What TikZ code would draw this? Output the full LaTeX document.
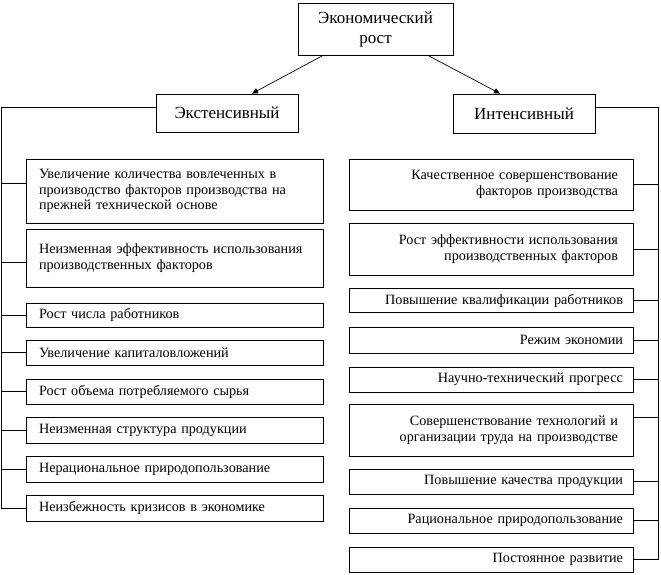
\documentclass[tikz,border=0pt]{standalone}
\usepackage{fontspec}
\setmainfont{Liberation Serif}
\usetikzlibrary{arrows.meta}
\tikzset{
  box/.style={draw=black, line width=0.9pt, inner sep=0pt, font=\fontsize{14.2}{15.8}\selectfont},
  headbox/.style={box, align=center, font=\fontsize{17}{20}\selectfont},
  lbox/.style={box, minimum width=297pt, text width=271pt, align=left, inner xsep=13pt},
  rbox/.style={box, minimum width=284pt, text width=264pt, align=right, inner xsep=10pt},
  rboxw/.style={rbox, text width=254pt, inner xsep=15pt},
  conn/.style={line width=0.8pt},
  arr/.style={line width=0.7pt, -{Triangle[length=6pt,width=5.5pt]}}
}
\begin{document}
\begin{tikzpicture}[x=1pt,y=-1pt]
\useasboundingbox (0,0) rectangle (661,575);
% top
\node[headbox, minimum width=155pt, minimum height=52pt] (eco) at (375.5,29) {Экономический\\рост};
\node[headbox, minimum width=142pt, minimum height=38pt] (ext) at (227,113) {Экстенсивный};
\node[headbox, minimum width=142pt, minimum height=39pt] (int) at (524,113.5) {Интенсивный};
\draw[arr] ([xshift=-52.5pt]eco.south) -- ([xshift=25pt]ext.north);
\draw[arr] ([xshift=52.5pt]eco.south) -- ([xshift=-24pt]int.north);
% left column
\node[lbox, minimum height=64pt] (l1) at (174.5,191) {Увеличение количества вовлеченных в\\производство факторов производства на\\прежней технической основе};
\node[lbox, minimum height=58pt] (l2) at (174.5,258) {Неизменная эффективность использования\\производственных факторов};
\node[lbox, minimum height=24pt] (l3) at (174.5,315) {Рост числа работников};
\node[lbox, minimum height=25pt] (l4) at (174.5,352.5) {Увеличение капиталовложений};
\node[lbox, minimum height=25pt] (l5) at (174.5,391.5) {Рост объема потребляемого сырья};
\node[lbox, minimum height=26pt] (l6) at (174.5,430) {Неизменная структура продукции};
\node[lbox, minimum height=26pt] (l7) at (174.5,469) {Нерациональное природопользование};
\node[lbox, minimum height=26pt] (l8) at (174.5,508) {Неизбежность кризисов в экономике};
% right column
\node[rboxw, minimum height=51pt] (r1) at (491,184.5) {Качественное совершенствование\\факторов производства};
\node[rboxw, minimum height=52pt] (r2) at (491,249) {Рост эффективности использования\\производственных факторов};
\node[rbox, minimum height=24pt] (r3) at (491,300.5) {Повышение квалификации работников};
\node[rbox, minimum height=26pt] (r4) at (491,340) {Режим экономии};
\node[rbox, minimum height=25pt] (r5) at (491,379.5) {Научно-технический прогресс};
\node[rboxw, minimum height=52pt] (r6) at (491,430) {Совершенствование технологий и\\организации труда на производстве};
\node[rbox, minimum height=25pt] (r7) at (491,481.5) {Повышение качества продукции};
\node[rbox, minimum height=25pt] (r8) at (491,520.5) {Рациональное природопользование};
\node[rbox, minimum height=25pt] (r9) at (491,559.5) {Постоянное развитие};
% left trunk
\draw[conn] ([yshift=6pt]ext.west) -- ++(-154,0) coordinate (lt) -- (lt |- l8.west) -- (l8.west);
\coordinate (c1) at ([yshift=8pt]l1.west);
\coordinate (c2) at ([yshift=-4pt]l2.west);
\draw[conn] (c1) -- (lt |- c1);
\draw[conn] (c2) -- (lt |- c2);
\foreach \n in {l3,l4,l5,l6,l7} { \draw[conn] (\n.west) -- (lt |- \n.west); }
% right trunk
\draw[conn] ([yshift=6pt]int.east) -- ++(63,0) coordinate (rt) -- (rt |- r9.east) -- (r9.east);
\coordinate (c6) at ([yshift=13pt]r6.east);
\draw[conn] (c6) -- (rt |- c6);
\foreach \n in {r1,r2,r3,r4,r5,r7,r8} { \draw[conn] (\n.east) -- (rt |- \n.east); }
\end{tikzpicture}
\end{document}
